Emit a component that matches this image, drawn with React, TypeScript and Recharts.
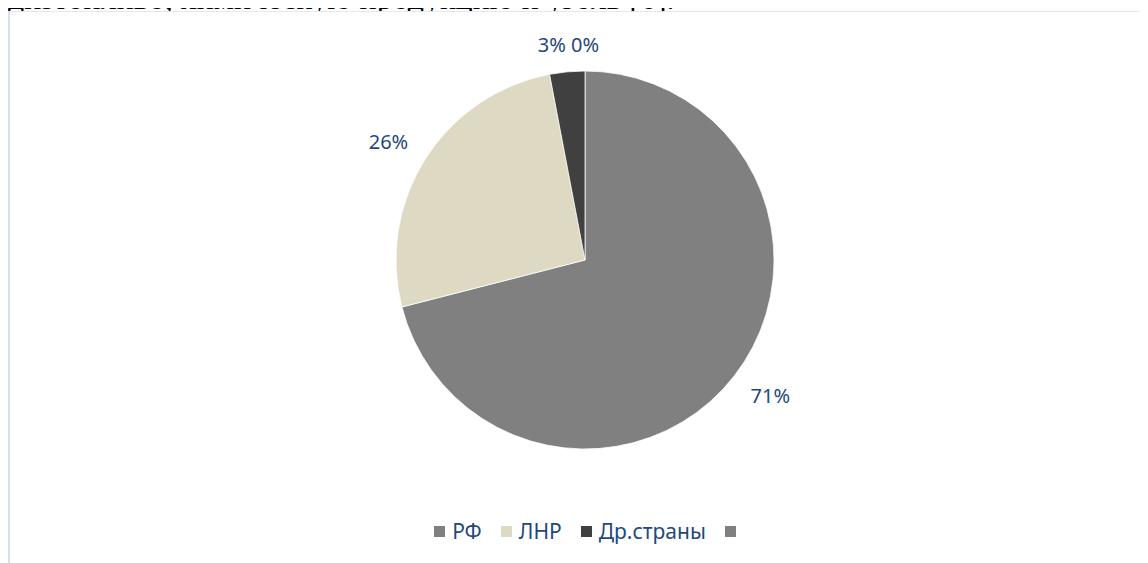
import React from 'react';
import { PieChart, Pie, Cell, Legend } from 'recharts';

const countries = ['РФ', 'ЛНР', 'Др.страны', ''];
const shares = [71, 26, 3, 0];
const colors = ['#808080', '#DDD9C3', '#404040', '#808080'];

const pieData = countries.map((name, i) => ({ name, value: shares[i] }));

const RAD = Math.PI / 180;
const labelColor = '#1F497D';
const font = '"Noto Sans", "Open Sans", sans-serif';

const clamp = (v: number) => Math.max(-1, Math.min(1, v));

// Excel-ish outside-end labels: the corner of the label box nearest the pie sits on a ring
const renderLabel = (props: any) => {
  const { cx, cy, midAngle, outerRadius, index } = props;
  const text = `${shares[index]}%`;
  const w = text.length * 14.5;
  const h = 18;
  const dx = Math.cos(-midAngle * RAD);
  const dy = Math.sin(-midAngle * RAD);
  const r = outerRadius + 18;
  const x = cx + r * dx + (w / 2) * clamp(dx * 10);
  const y = cy + r * dy + (h / 2) * clamp(dy * 1.5);
  return (
    <text x={x} y={y} fill={labelColor} fontSize={20} fontFamily={font} textAnchor="middle" dominantBaseline="central">
      {text}
    </text>
  );
};

const LegendBox = () => (
  <div style={{ display: 'flex', justifyContent: 'center', alignItems: 'center', fontFamily: font, fontSize: 21, color: labelColor }}>
    {countries.map((c, i) => (
      <div key={i} style={{ display: 'flex', alignItems: 'center', marginRight: i < countries.length - 1 ? 19 : 0 }}>
        <span style={{ width: 11, height: 11, background: colors[i], display: 'inline-block', marginRight: c ? 7 : 0 }} />
        <span>{c}</span>
      </div>
    ))}
  </div>
);

export default function App() {
  return (
    <div style={{ position: 'relative', width: 1140, height: 555 }}>
      <div style={{ position: 'absolute', top: -28, left: 0, fontFamily: '"Liberation Serif", serif', fontSize: 32, lineHeight: '37px', whiteSpace: 'nowrap', color: '#000' }}>
        дизтопливо, химическую продукцию и уголь [6].
      </div>
      <div style={{ position: 'absolute', left: 0, top: 3, width: 1138, height: 551, borderTop: '1px solid #e1e8f2', borderLeft: '2px solid #d5e0ef', background: '#fff' }}>
        <PieChart width={1138} height={551}>
          <Pie
            data={pieData}
            dataKey="value"
            nameKey="name"
            cx={570}
            cy={243}
            outerRadius={189}
            startAngle={90}
            endAngle={-270}
            stroke="#ffffff"
            strokeWidth={0.75}
            label={renderLabel}
            labelLine={false}
            isAnimationActive={false}
          >
            {pieData.map((d, i) => (
              <Cell key={d.name + i} fill={colors[i]} />
            ))}
          </Pie>
          <Legend content={<LegendBox />} wrapperStyle={{ left: 6, width: 1138, top: 505 }} />
        </PieChart>
      </div>
    </div>
  );
}
